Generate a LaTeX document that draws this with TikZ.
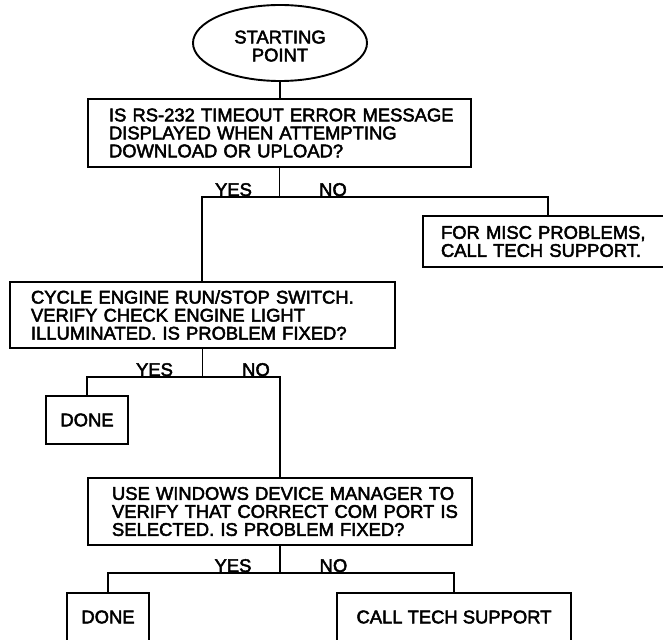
\documentclass[tikz,border=0pt]{standalone}
\usepackage{fontspec}
\setmainfont{Liberation Sans}[FakeBold=2.6]
\usetikzlibrary{shapes.geometric}
\begin{document}
\begin{tikzpicture}[x=1pt,y=-1pt,
  every node/.style={font=\fontsize{18.4}{18}\selectfont},
  ln/.style={line width=1.9pt},
  box/.style={draw, rectangle, line width=1.9pt, inner sep=0pt, outer sep=0pt, align=left},
  leftpad/.style={execute at begin node={\leftskip=#1\parindent=0pt}},
  lbl/.style={anchor=base, inner sep=0pt},
  term/.style={draw, ellipse, line width=1.9pt, inner sep=0pt, outer sep=0pt, align=center, minimum width=174pt, minimum height=76pt}]
\useasboundingbox (0,0) rectangle (663,639);
\clip (0,0) rectangle (663,639);

% nodes
\node[term] (start) at (280,43) {\rule{0pt}{19pt}STARTING\\POINT};
\node[box, text width=383pt, minimum height=68pt, leftpad=21pt] (q1) at (279.5,133)
  {IS RS-232 TIMEOUT ERROR MESSAGE\\DISPLAYED WHEN ATTEMPTING\\DOWNLOAD OR UPLOAD?};
\node[box, text width=260pt, minimum height=51pt, leftpad=18pt] (misc) at (553,241.5)
  {FOR MISC PROBLEMS,\\CALL TECH SUPPORT.};
\node[box, text width=385pt, minimum height=66pt, leftpad=21pt] (q2) at (202.5,315)
  {CYCLE ENGINE RUN/STOP SWITCH.\\VERIFY CHECK ENGINE LIGHT\\ILLUMINATED. IS PROBLEM FIXED?};
\node[box, minimum width=82pt, minimum height=48pt] (done1) at (87,420) {DONE};
\node[box, text width=384pt, minimum height=67pt, leftpad=24pt] (q3) at (280,511.5)
  {USE WINDOWS DEVICE MANAGER TO\\VERIFY THAT CORRECT COM PORT IS\\SELECTED. IS PROBLEM FIXED?};
\node[box, minimum width=82pt, minimum height=48pt] (done2) at (108,617) {DONE};
\node[box, minimum width=234pt, minimum height=48pt] (call) at (454,617) {CALL TECH SUPPORT};

% junction points
\coordinate (j1L) at (202,197);
\coordinate (j1R) at (548,197);
\coordinate (j2L) at (87,377);
\coordinate (j2R) at (280,377);
\coordinate (j3L) at (108,573);
\coordinate (j3R) at (454,573);

% connectors
\draw[ln] (start.south) -- (start.south |- q1.north);
\draw[ln] (q1.south) -- (q1.south |- j1L);
\draw[ln] (j1L |- q2.north) -- (j1L) -- (j1R) -- (j1R |- misc.north);
\draw[ln] (q2.south) -- (q2.south |- j2L);
\draw[ln] (done1.north) -- (j2L) -- (j2R) -- (q3.north);
\draw[ln] (q3.south) -- (q3.south |- j3L);
\draw[ln] (done2.north) -- (j3L) -- (j3R) -- (call.north);

% labels
\node[lbl] (yes1) at (233.5,196) {YES};
\node[lbl] (no1) at (333,196) {NO};
\node[lbl] (yes2) at (154.5,376) {YES};
\node[lbl] (no2) at (256,376) {NO};
\node[lbl] (yes3) at (233,572) {YES};
\node[lbl] (no3) at (333.5,572) {NO};
\end{tikzpicture}
\end{document}
